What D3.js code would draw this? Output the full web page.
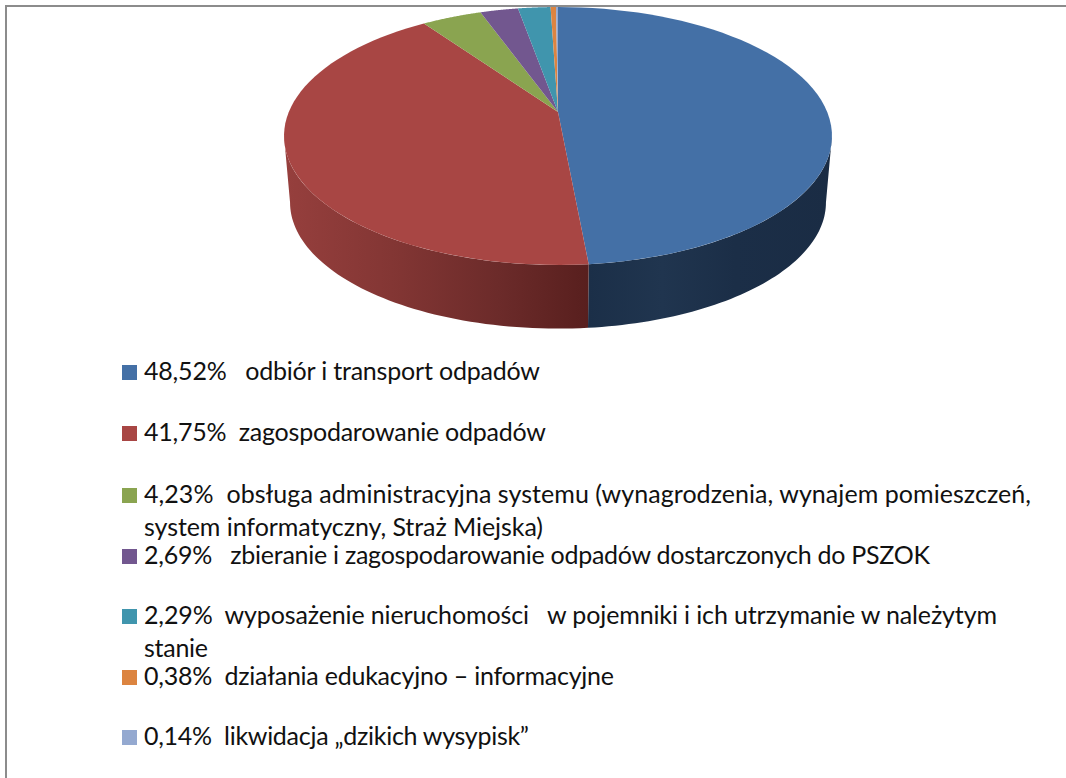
<!DOCTYPE html>
<html>
<head>
<meta charset="utf-8">
<script src="https://cdnjs.cloudflare.com/ajax/libs/d3/7.8.5/d3.min.js"></script>
<style>
  html, body { margin: 0; background: #fff; }
  svg { display: block; }
  text { font-family: Lato, "Open Sans", sans-serif; font-size: 25px; fill: #111; white-space: pre; }
</style>
</head>
<body>
<script>
// donnees du graphique
const valeurs = [48.52, 41.75, 4.23, 2.69, 2.29, 0.38, 0.14];
const couleurs = ['#4470a6', '#a84644', '#8aa450', '#72578f', '#4095ad', '#dc8440', '#94a9d0'];
const legendes = [
  ['48,52%   odbiór i transport odpadów'],
  ['41,75%  zagospodarowanie odpadów'],
  ['4,23%  obsługa administracyjna systemu (wynagrodzenia, wynajem pomieszczeń,', 'system informatyczny, Straż Miejska)'],
  ['2,69%   zbieranie i zagospodarowanie odpadów dostarczonych do PSZOK'],
  ['2,29%  wyposażenie nieruchomości   w pojemniki i ich utrzymanie w należytym', 'stanie'],
  ['0,38%  działania edukacyjno – informacyjne'],
  ['0,14%  likwidacja „dzikich wysypisk”']
];
// largeur de chaque ligne de legende, la police d'origine n'est pas installee
const largeursLegende = [[396], [402], [887, 399], [786], [853, 64], [470], [385]];
const legendeY = [372, 433, 495, 556, 616, 677, 737];

const largeur = 1066, hauteur = 778;
const canevas = d3.select('body').append('svg')
  .attr('width', largeur)
  .attr('height', hauteur);

// cadre : haut et gauche seulement
canevas.append('path')
  .attr('d', `M6,${hauteur} V6 H${largeur}`)
  .attr('fill', 'none')
  .attr('stroke', '#8c8c8c')
  .attr('stroke-width', 2);

// perspective du disque : centre du haut, demi-axes, fuite
const cx = 558, cy = 112, a = 269.2, b = 124.5, k = -0.186;
const epaisseur = 67, retrait = 0.978;

const dessus = t => {
  const u = Math.sin(t), v = -Math.cos(t), w = 1 + k * v;
  return [cx + a * u / w, cy + b * v / w];
};
const dessous = t => {
  const p = dessus(t);
  return [cx + (p[0] - cx) * retrait, cy + epaisseur + (p[1] - cy) * retrait];
};

const pie = d3.pie().sort(null)(valeurs);
const ligne = d3.line();
const parcours = (t0, t1) => d3.range(0, 61).map(i => t0 + (t1 - t0) * i / 60);

// gradients des flancs
const defs = canevas.append('defs');
const degrade = (id, x1, x2, arrets) => {
  const g = defs.append('linearGradient').attr('id', id)
    .attr('gradientUnits', 'userSpaceOnUse')
    .attr('x1', x1).attr('x2', x2).attr('y1', 0).attr('y2', 0);
  arrets.forEach(s => g.append('stop').attr('offset', s[0]).attr('stop-color', s[1]));
};
degrade('flancRouge', 285, 589, [[0, '#963f3d'], [0.35, '#833634'], [0.7, '#6c2b2a'], [1, '#581f1e']]);
degrade('flancBleu', 589, 832, [[0, '#1b2f48'], [0.3, '#20354f'], [0.6, '#1b2e47'], [1, '#1a2c44']]);

// flancs visibles, entre les deux bords du disque
const bordDroit = Math.acos(k), bordGauche = 2 * Math.PI - Math.acos(k);
const flancs = [
  { t0: bordDroit, t1: pie[0].endAngle, fill: 'url(#flancBleu)' },
  { t0: pie[0].endAngle, t1: bordGauche, fill: 'url(#flancRouge)' }
];
canevas.selectAll('path.flanc').data(flancs).enter().append('path')
  .attr('class', 'flanc')
  .attr('fill', d => d.fill)
  .attr('d', d => {
    const pts = parcours(d.t0, d.t1);
    return ligne(pts.map(dessus).concat(pts.reverse().map(dessous))) + 'Z';
  });

// parts du dessus
canevas.selectAll('path.part').data(pie).enter().append('path')
  .attr('class', 'part')
  .attr('fill', (d, i) => couleurs[i])
  .attr('d', d => ligne([[cx, cy]].concat(parcours(d.startAngle, d.endAngle).map(dessus))) + 'Z');

// legende
const lg = canevas.selectAll('g.legende').data(legendes).enter().append('g').attr('class', 'legende');
lg.append('rect')
  .attr('x', 122).attr('width', 15).attr('height', 15)
  .attr('y', (d, i) => legendeY[i] - 7)
  .attr('fill', (d, i) => couleurs[i]);
lg.each(function (d, i) {
  d.forEach((t, j) => {
    d3.select(this).append('text')
      .attr('x', 144)
      .attr('y', legendeY[i] + 8 + j * 33)
      .attr('textLength', largeursLegende[i][j])
      .attr('lengthAdjust', 'spacing')
      .text(t);
  });
});
</script>
</body>
</html>
